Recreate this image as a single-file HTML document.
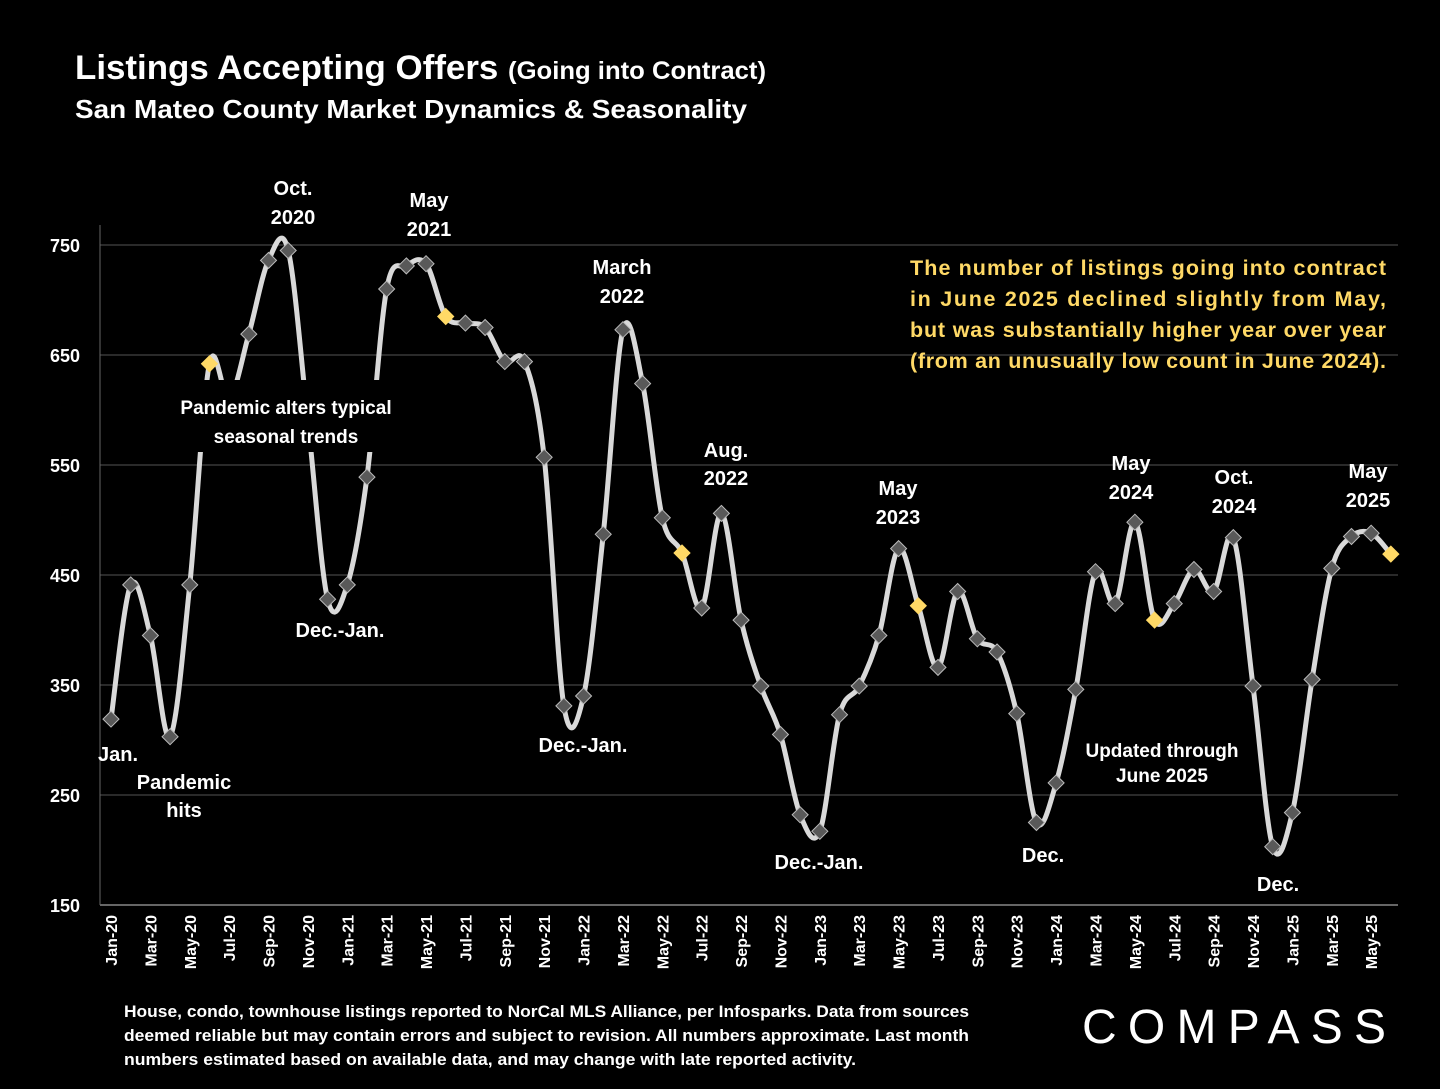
<!DOCTYPE html>
<html><head><meta charset="utf-8"><style>
body{margin:0;background:#000;width:1440px;height:1084px;overflow:hidden;font-family:"Liberation Sans",sans-serif;}
svg text{font-family:"Liberation Sans",sans-serif;font-weight:bold;fill:#fff;}
</style></head><body>
<svg id="chart" width="1440" height="1084" viewBox="0 0 1440 1084">
<rect x="0" y="0" width="1440" height="1084" fill="#000"/>
<text x="75" y="79" font-size="34" textLength="691" lengthAdjust="spacingAndGlyphs">Listings Accepting Offers <tspan font-size="25">(Going into Contract)</tspan></text>
<text x="75" y="118" font-size="26" textLength="672" lengthAdjust="spacingAndGlyphs">San Mateo County Market Dynamics &amp; Seasonality</text>
<g id="grid"></g><g id="xlabels"></g>
<path id="line" fill="none" stroke="#d9d9d9" stroke-width="5"/>
<g id="marks"></g>
<g id="notes"></g>
<g font-size="21.5">
<text x="910" y="275" style="fill:#ffd966" textLength="476">The number of listings going into contract</text>
<text x="910" y="306" style="fill:#ffd966" textLength="476">in June 2025 declined slightly from May,</text>
<text x="910" y="337" style="fill:#ffd966" textLength="476">but was substantially higher year over year</text>
<text x="910" y="368" style="fill:#ffd966" textLength="476">(from an unusually low count in June 2024).</text>
</g>
<g font-size="17">
<text x="124" y="1017" textLength="845" lengthAdjust="spacingAndGlyphs">House, condo, townhouse listings reported to NorCal MLS Alliance, per Infosparks. Data from sources</text>
<text x="124" y="1041" textLength="845" lengthAdjust="spacingAndGlyphs">deemed reliable but may contain errors and subject to revision. All numbers approximate. Last month</text>
<text x="124" y="1065" textLength="732" lengthAdjust="spacingAndGlyphs">numbers estimated based on available data, and may change with late reported activity.</text>
</g>
<text x="1082" y="1043" font-size="48" style="font-weight:normal" textLength="304" lengthAdjust="spacing">COMPASS</text>
</svg>
<script>
const months=["Jan","Feb","Mar","Apr","May","Jun","Jul","Aug","Sep","Oct","Nov","Dec"];
const values=[319,441,395,303,441,642,610,669,736,745,590,428,
441,539,710,731,733,685,679,675,644,644,557,331,
340,487,673,624,502,470,420,506,409,349,305,232,
217,323,349,395,474,422,366,435,392,380,324,225,
261,346,453,424,498,409,424,455,435,484,349,203,
234,355,456,485,488,469];
const yTicks=[150,250,350,450,550,650,750];
const NS="http://www.w3.org/2000/svg";
const X=i=>111+i*19.69, Y=v=>905-(v-150)*1.1;
function el(t,a,p){const e=document.createElementNS(NS,t);for(const k in a)e.setAttribute(k,a[k]);p.appendChild(e);return e;}
const grid=document.getElementById('grid');
yTicks.forEach(v=>{
 if(v>150){const l=el('line',{x1:100,x2:1398,y1:Y(v),y2:Y(v),stroke:'#555','stroke-width':1},grid);
 
 }
 const t=el('text',{x:80,y:Y(v)+7,'text-anchor':'end','font-size':18},grid);t.textContent=v;
 
 
});
const ax=el('line',{x1:100,x2:1398,y1:905,y2:905,stroke:'#888','stroke-width':1.5},grid);


const ay=el('line',{x1:100,x2:100,y1:225,y2:905,stroke:'#666','stroke-width':1},grid);


const xl=document.getElementById('xlabels');
for(let i=0;i<values.length;i+=2){
 const lab=months[i%12]+"-"+(20+Math.floor(i/12));
 const t=el('text',{x:0,y:0,'font-size':16,'text-anchor':'end',transform:`translate(${X(i)+6},915) rotate(-90)`},xl);t.textContent=lab;
 
 
}
const P=values.map((v,i)=>[X(i),Y(v)]);
let d=`M${P[0][0]},${P[0][1]}`;
for(let i=0;i<P.length-1;i++){const p0=P[Math.max(0,i-1)],p1=P[i],p2=P[i+1],p3=P[Math.min(P.length-1,i+2)];
 d+=` C${p1[0]+(p2[0]-p0[0])/6},${p1[1]+(p2[1]-p0[1])/6} ${p2[0]-(p3[0]-p1[0])/6},${p2[1]-(p3[1]-p1[1])/6} ${p2[0]},${p2[1]}`;}
document.getElementById('line').setAttribute('d',d);
const mk=document.getElementById('marks');
P.forEach((p,i)=>{const y=i%12==5;
 const m=el('polygon',{points:`${p[0]},${p[1]-8} ${p[0]+8},${p[1]} ${p[0]},${p[1]+8} ${p[0]-8},${p[1]}`,fill:y?'#ffd966':'#595959',stroke:y?'#ffd966':'#bbb','stroke-width':1},mk);
 
 
});
const notes=document.getElementById('notes');
const N=[["Jan.",118,761],["Pandemic",184,789],["hits",184,817],["Oct.",293,195],["2020",293,224],["May",429,207],["2021",429,236],["Dec.-Jan.",340,637],["March",622,274],["2022",622,303],["Aug.",726,457],["2022",726,485],["Dec.-Jan.",583,752],["Dec.-Jan.",819,869],["May",898,495],["2023",898,524],["Dec.",1043,862],["May",1131,470],["2024",1131,499],["Oct.",1234,484],["2024",1234,513],["Dec.",1278,891],["May",1368,478],["2025",1368,507],["Updated through",1162,757],["June 2025",1162,782]];
const bg=el('rect',{x:166,y:380,width:240,height:72,fill:'#000'},notes);


N.push(["Pandemic alters typical",286,414],["seasonal trends",286,443]);
N.forEach(n=>{const t=el('text',{x:n[1],y:n[2],'text-anchor':'middle','font-size':n[0].length>12||n[0]=="June 2025"?19:20},notes);t.textContent=n[0];
 
 });
</script>
</body></html>
